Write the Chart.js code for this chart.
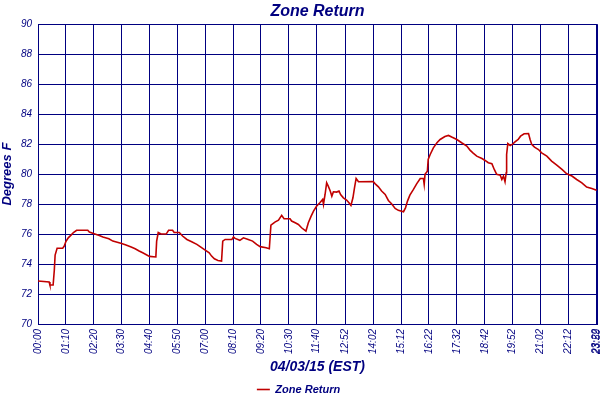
<!DOCTYPE html>
<html>
<head>
<meta charset="utf-8">
<script src="https://cdn.jsdelivr.net/npm/chart.js@4"></script>
<style>
  html, body { margin: 0; padding: 0; background: #fff; }
</style>
</head>
<body>
<canvas id="chart" width="600" height="400"></canvas>
<script>
'use strict';
// minutes after midnight, 04/03/15
let times = [0, 28, 30, 38, 41, 43, 48, 62, 66, 70, 76, 83, 89, 97, 125, 129, 141, 154, 163, 178,
  188, 208, 221, 234, 244, 254, 263, 271, 280, 296, 298, 302, 309, 322, 328, 338, 342, 355, 363,
  374, 386, 399, 409, 420, 430, 436, 443, 452, 461, 464, 470, 487, 491, 495, 507, 516, 528, 539,
  549, 558, 573, 581, 585, 595, 604, 612, 618, 633, 637, 646, 654, 662, 673, 679, 686, 692, 700,
  708, 715, 717, 721, 725, 729, 734, 738, 742, 750, 756, 760, 767, 775, 781, 786, 791, 795, 799,
  805, 842, 847, 855, 863, 872, 880, 888, 897, 905, 918, 923, 928, 934, 943, 951, 960, 968, 970,
  972, 978, 980, 985, 993, 1002, 1010, 1022, 1031, 1039, 1052, 1064, 1077, 1085, 1093, 1102, 1115,
  1123, 1131, 1140, 1146, 1152, 1161, 1165, 1169, 1173, 1176, 1177, 1180, 1186, 1192, 1198, 1206,
  1212, 1221, 1232, 1236, 1240, 1247, 1257, 1265, 1278, 1290, 1303, 1316, 1328, 1341, 1353, 1366,
  1378, 1391, 1403];
let temps = [72.87, 72.8, 72.6, 72.6, 73.6, 74.6, 75.05, 75.05, 75.2, 75.5, 75.75, 75.93, 76.1, 76.25, 76.25, 76.13, 76.02, 75.9, 75.8, 75.69,
  75.53, 75.38, 75.27, 75.13, 75.02, 74.87, 74.75, 74.64, 74.51, 74.47, 75.53, 76.1, 76.0, 76.0, 76.25, 76.25, 76.1, 76.1, 75.87,
  75.64, 75.49, 75.31, 75.13, 74.93, 74.75, 74.53, 74.35, 74.24, 74.2, 75.53, 75.64, 75.64, 75.8, 75.71, 75.58, 75.75, 75.64, 75.53,
  75.31, 75.16, 75.09, 75.02, 76.6, 76.8, 76.93, 77.25, 77.02, 77.02, 76.87, 76.75, 76.64, 76.42, 76.2, 76.75, 77.2, 77.53, 77.87,
  78.09, 78.31, 77.98, 78.64, 79.42, 79.2, 78.87, 78.53, 78.82, 78.8, 78.87, 78.64, 78.42, 78.27, 78.09, 77.91, 78.42, 79.09, 79.71,
  79.49, 79.5, 79.35, 79.15, 78.87, 78.64, 78.24, 78.02, 77.71, 77.58, 77.49, 77.75, 78.2, 78.6, 78.98, 79.35, 79.71, 79.71, 79.31,
  79.98, 80.2, 80.98, 81.31, 81.75, 82.09, 82.31, 82.51, 82.58, 82.47, 82.31, 82.09, 81.87, 81.6, 81.4, 81.2, 81.04,
  80.91, 80.76, 80.7, 80.31, 79.98, 79.93, 79.64, 79.87, 79.49, 80.09, 81.31, 82.04, 81.91, 82.0, 82.15, 82.31,
  82.53, 82.69, 82.7, 82.31, 81.98, 81.8, 81.64, 81.42, 81.2, 80.87, 80.6, 80.31, 80.02, 79.87, 79.64, 79.42,
  79.13, 79.04, 78.93];

let tickMinutes = [0, 70, 140, 210, 280, 350, 420, 490, 560, 630, 700, 772, 842, 912, 982, 1052, 1122, 1192, 1262, 1332, 1402, 1404];
let tickLabels = ['00:00', '01:10', '02:20', '03:30', '04:40', '05:50', '07:00', '08:10', '09:20', '10:30', '11:40',
  '12:52', '14:02', '15:12', '16:22', '17:32', '18:42', '19:52', '21:02', '22:12', '23:22', '23:59'];

let navy = '#000080';
let points = [];
for (let i = 0; i < times.length; i++) {
    points.push({x: times[i], y: temps[i]});
}

// push the legend a little lower, like the original
let legendShift = {
    id: 'legendShift',
    afterLayout: function (chart) {
        chart.legend.top += 5;
        chart.legend.bottom += 5;
    }
};

let ctx = document.getElementById('chart').getContext('2d');
let chart = new Chart(ctx, {
    type: 'line',
    data: {
        datasets: [{
            label: 'Zone Return',
            data: points,
            borderColor: '#c00000',
            backgroundColor: '#c00000',
            borderWidth: 1.6,
            pointRadius: 0,
            tension: 0,
            fill: false
        }]
    },
    plugins: [legendShift],
    options: {
        responsive: false,
        animation: false,
        devicePixelRatio: 1,
        layout: { padding: { left: 0, right: 3, top: 0, bottom: 0 } },
        plugins: {
            title: {
                display: true,
                fullSize: false,
                text: 'Zone Return',
                color: navy,
                font: { family: 'Liberation Sans', size: 16, style: 'italic', weight: 'bold' },
                padding: { top: 2, bottom: 3 }
            },
            legend: {
                position: 'bottom',
                labels: {
                    color: navy,
                    font: { family: 'Liberation Sans', size: 11, style: 'italic', weight: 'bold' },
                    usePointStyle: true,
                    pointStyle: 'line',
                    pointStyleWidth: 13,
                    padding: 2
                }
            },
            tooltip: { enabled: false }
        },
        scales: {
            x: {
                type: 'linear',
                min: 0,
                max: 1404,
                afterBuildTicks: function (scale) {
                    scale.ticks = tickMinutes.map(function (m) { return {value: m}; });
                },
                afterFit: function (scale) {
                    scale.paddingLeft = 0;
                    scale.paddingRight = 0;
                    scale.height = 53;
                },
                ticks: {
                    autoSkip: false,
                    maxRotation: 90,
                    minRotation: 90,
                    padding: 5,
                    color: navy,
                    font: { family: 'Liberation Sans', size: 10, style: 'italic' },
                    callback: function (value, index) { return tickLabels[index]; }
                },
                grid: { color: navy, lineWidth: 1, drawTicks: false },
                border: { color: navy, width: 1 },
                title: {
                    display: true,
                    text: '04/03/15 (EST)',
                    color: navy,
                    font: { family: 'Liberation Sans', size: 14, style: 'italic', weight: 'bold' },
                    padding: { top: 4, bottom: 1 }
                }
            },
            y: {
                min: 70,
                max: 90,
                afterFit: function (scale) { scale.width = 38; },
                ticks: {
                    stepSize: 2,
                    padding: 6,
                    color: navy,
                    font: { family: 'Liberation Sans', size: 10, style: 'italic' }
                },
                grid: { color: navy, lineWidth: 1, drawTicks: false },
                border: { color: navy, width: 1 },
                title: {
                    display: true,
                    text: 'Degrees F',
                    color: navy,
                    font: { family: 'Liberation Sans', size: 13, style: 'italic', weight: 'bold' },
                    padding: { top: 0, bottom: 2 }
                }
            }
        }
    }
});
</script>
</body>
</html>
